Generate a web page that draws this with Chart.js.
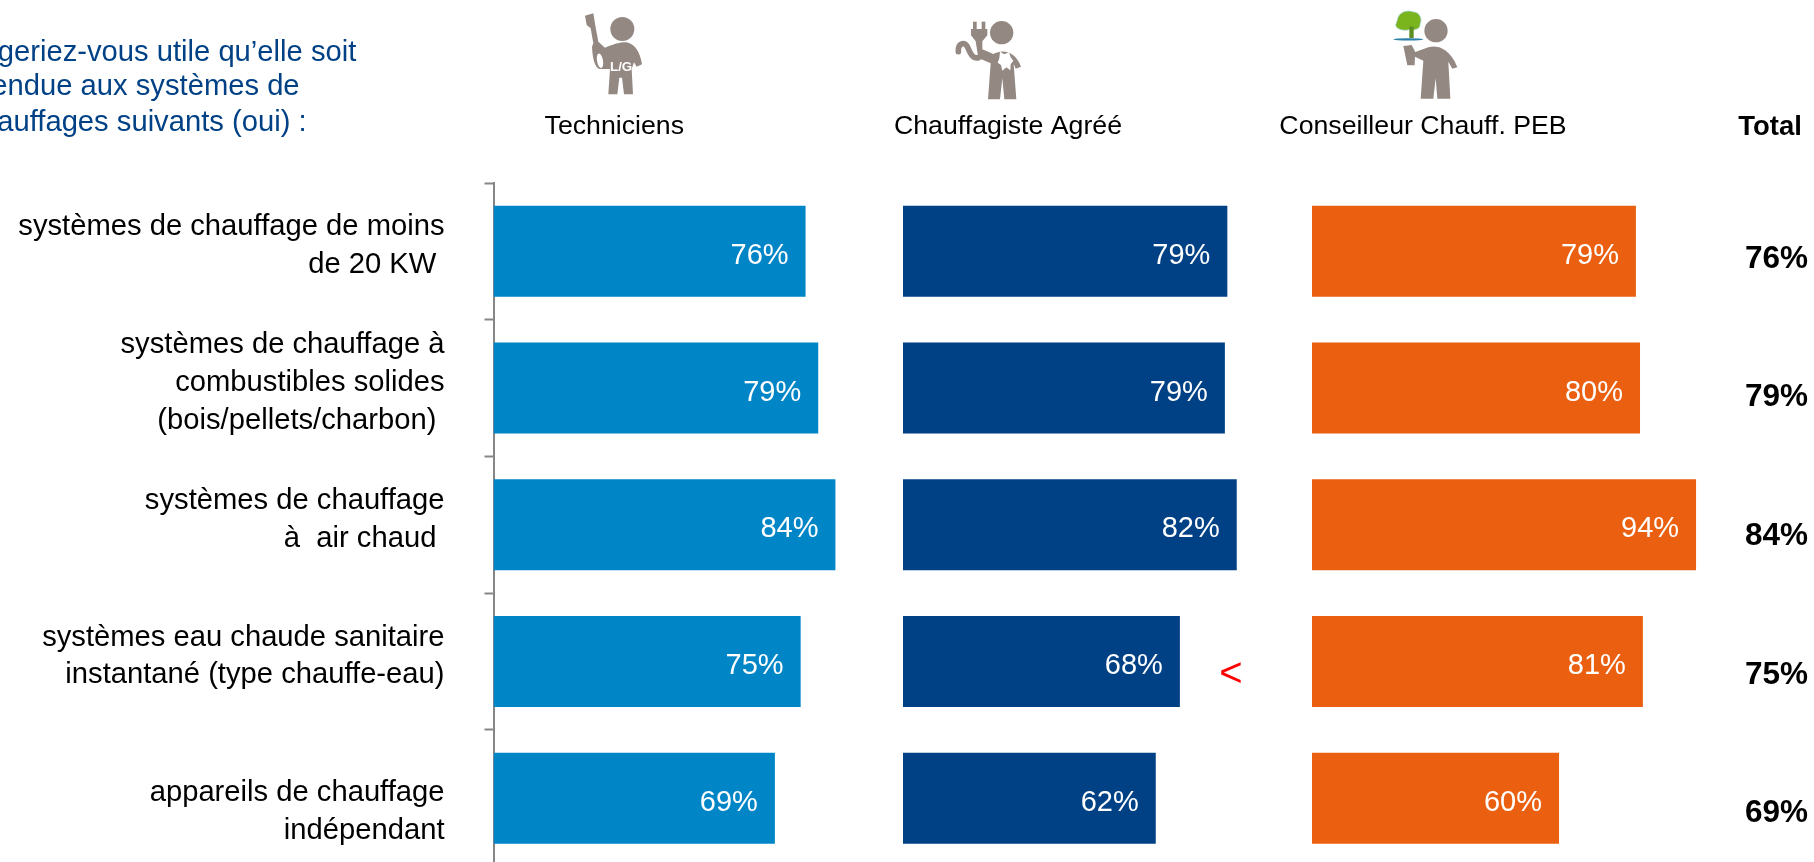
<!DOCTYPE html>
<html lang="fr">
<head>
<meta charset="utf-8">
<title>Systèmes de chauffage</title>
<script src="https://cdn.jsdelivr.net/npm/chart.js@4"></script>
<style>
html,body{margin:0;padding:0;background:#fff;overflow:hidden}
#wrap{position:relative;width:1814px;height:862px;overflow:hidden}
canvas{display:block;position:absolute;left:0;top:0}
svg{position:absolute}
</style>
</head>
<body>
<div id="wrap">
<canvas id="c" width="1814" height="870"></canvas>
<svg style="left:560px;top:5px" width="110" height="100" viewBox="0 0 330 300">
  <path fill="#948882" d="M75,32 L100,25 L106,62 L115,110 L135,128 C160,118 180,110 200,112 C225,118 240,140 246,178 L230,185 L222,172 L215,192 L219,268 L192,268 L186,218 L178,218 L172,268 L145,268 L150,192 L118,192 C105,185 98,165 96,125 L100,115 L92,70 L80,60 Z"/>
  <circle cx="187" cy="72" r="36" fill="#948882"/>
  <ellipse cx="120" cy="167" rx="9" ry="22" fill="#fff" transform="rotate(-10 120 167)"/>
  <text x="150" y="198" font-family="Liberation Sans" font-weight="700" font-size="40" fill="#fff">L/G</text>
</svg>
<svg style="left:945px;top:10px" width="110" height="100" viewBox="0 0 330 300">
  <g fill="#948882">
    <rect x="84" y="35" width="11" height="26"/><rect x="110" y="35" width="11" height="26"/>
    <path d="M78,57 L127,57 L127,76 L112,94 L112,118 L145,132 C175,115 212,125 228,170 L212,176 L206,162 L214,268 L178,268 L172,205 L165,268 L129,268 L137,160 L100,144 L92,94 L78,76 Z"/>
    <circle cx="170" cy="68" r="35"/>
  </g>
  <path fill="none" stroke="#948882" stroke-width="17" stroke-linecap="round" d="M102,142 C85,150 75,130 68,112 C60,92 38,100 40,125"/>
  <path fill="#fff" d="M165,125 L178,133 L192,127 L197,142 L205,152 L197,163 L196,181 L184,172 L172,182 L168,165 L158,158 L163,145 Z"/>
</svg>
<svg style="left:1380px;top:0" width="110" height="105" viewBox="0 0 330 315">
  <g fill="#948882">
    <path d="M70,138 L95,135 L106,156 L145,142 C190,130 220,170 232,202 L217,206 L205,185 L211,296 L172,296 L167,235 L160,296 L122,296 L130,182 L105,170 L104,196 L82,196 Z"/>
    <circle cx="168" cy="92" r="35"/>
  </g>
  <path fill="#7ab51d" stroke="#9fd3d8" stroke-width="2" d="M52,60 C55,38 80,28 100,36 C120,36 128,60 120,72 C122,88 100,92 90,88 C72,96 42,85 48,72 Z"/>
  <rect x="88" y="80" width="13" height="34" fill="#5b8f22"/>
  <ellipse cx="85" cy="118" rx="45" ry="3.5" fill="#2a7fa8"/>
</svg>
</div>
<script>
const categories = [
  ["systèmes de chauffage de moins", "de 20 KW "],
  ["systèmes de chauffage à", "combustibles solides", "(bois/pellets/charbon) "],
  ["systèmes de chauffage", "à  air chaud "],
  ["systèmes eau chaude sanitaire", "instantané (type chauffe-eau)"],
  ["", "appareils de chauffage", "indépendant"]
];
const seriesNames = ["Techniciens", "Chauffagiste Agréé", "Conseilleur Chauff. PEB"];
const techniciens = [76.3, 79.4, 83.6, 75.1, 68.8];
const chauffagistes = [79.3, 78.7, 81.6, 67.7, 61.8];
const conseillers = [79.2, 80.2, 93.9, 80.9, 60.4];
const totals = [76, 79, 84, 75, 69];
const seriesColors = ["#0085C7", "#004185", "#EB6010"];
const questionLines = ["geriez-vous utile qu’elle soit", "endue aux systèmes de", "auffages suivants (oui) :"];
const totalTitle = "Total";
const significanceMark = "<";

const FONT = '"Liberation Sans", Arial, sans-serif';
const pxPerUnit = 4.09, areaLeft = 493.5, areaWidth = 1814 - areaLeft;
const panelStart = [493.5, 903, 1312];
function panelScale(i) {
  const min = -(panelStart[i] - areaLeft) / pxPerUnit;
  return { type: "linear", display: false, min, max: min + areaWidth / pxPerUnit, grid: { display: false } };
}

const overlay = {
  id: "overlay",
  afterDatasetsDraw(chart) {
    const c = chart.ctx, y = chart.scales.y;
    c.save();
    c.textBaseline = "middle";
    // question
    c.font = "29.2px " + FONT; c.fillStyle = "#004185"; c.textAlign = "right";
    const qx = [356.3, 299.6, 306.6], qy = [53, 87, 123];
    questionLines.forEach((t, i) => c.fillText(t, qx[i], qy[i]));
    // column heads
    c.font = "26.7px " + FONT; c.fillStyle = "#000"; c.textAlign = "center";
    const hx = [614.3, 1008, 1423];
    seriesNames.forEach((t, i) => c.fillText(t, hx[i], 127));
    c.font = "bold 27.5px " + FONT;
    c.fillText(totalTitle, 1770, 127);
    // values in the bars
    c.font = "29px " + FONT; c.fillStyle = "#fff"; c.textAlign = "right";
    chart.data.datasets.forEach((ds, d) => {
      chart.getDatasetMeta(d).data.forEach((bar, i) => {
        c.fillText(Math.round(ds.data[i]) + "%", bar.x - 17, bar.y + 4.5);
      });
    });
    // totals
    c.font = "bold 31.5px " + FONT; c.fillStyle = "#000"; c.textAlign = "left";
    totals.forEach((v, i) => c.fillText(v + "%", 1745, y.getPixelForValue(i) + 7.5 + i * 2));
    // significance mark
    c.font = "40px " + FONT; c.fillStyle = "#f00"; c.textAlign = "center";
    c.fillText(significanceMark, 1231, 675);
    c.restore();
  }
};

new Chart(document.getElementById("c"), {
  type: "bar",
  data: {
    labels: categories,
    datasets: [techniciens, chauffagistes, conseillers].map((data, i) => ({
      label: seriesNames[i],
      data,
      xAxisID: "x" + (i + 1),
      backgroundColor: seriesColors[i],
      grouped: false,
      barPercentage: 1,
      categoryPercentage: 0.666
    }))
  },
  plugins: [overlay],
  options: {
    indexAxis: "y",
    responsive: false,
    animation: false,
    layout: { padding: { top: 183, bottom: 3.5, left: 0, right: 0 } },
    plugins: { legend: { display: false }, tooltip: { enabled: false }, title: { display: false } },
    scales: {
      x1: panelScale(0),
      x2: panelScale(1),
      x3: panelScale(2),
      y: {
        position: "left",
        afterFit(s) { s.width = areaLeft; s.paddingTop = 0; s.paddingBottom = 0; },
        border: { color: "#868686", width: 2 },
        grid: { drawOnChartArea: false, color: "#868686", tickLength: 9, tickWidth: 2 },
        ticks: {
          autoSkip: false, crossAlign: "near", padding: 40, labelOffset: -5, color: "#000",
          font: { family: FONT, size: 29.2, lineHeight: 1.3 }
        }
      }
    }
  }
});
</script>
</body>
</html>
